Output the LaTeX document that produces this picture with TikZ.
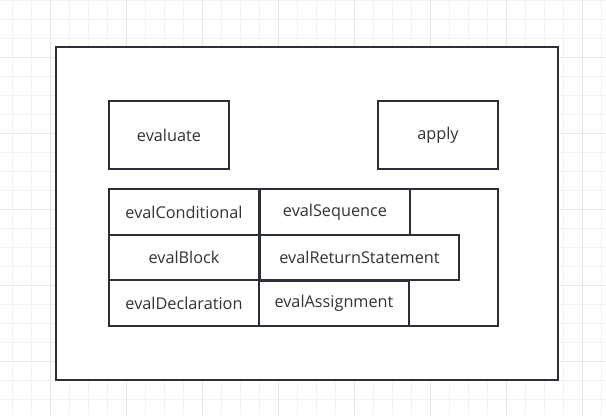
\documentclass[tikz,border=0pt]{standalone}
\usepackage{fontspec}
\setmainfont{Open Sans}
\definecolor{gridminor}{HTML}{F2F2F2}
\definecolor{gridmajor}{HTML}{E6E6E6}
\definecolor{edge}{HTML}{2B3036}
\definecolor{txt}{HTML}{333333}
\begin{document}
\begin{tikzpicture}[x=0.75pt,y=-0.75pt,
  box/.style={draw=edge,fill=white,line width=1.2pt,inner sep=0pt,
    text=txt,font=\fontsize{12.2}{14}\selectfont}]
\useasboundingbox (0,0) rectangle (606,415);
\fill[white] (0,0) rectangle (606,415);
% grid
\foreach \x in {12,31,...,606} \draw[gridminor,line width=0.75pt] (\x,0) -- (\x,415);
\foreach \y in {0,19,...,415} \draw[gridminor,line width=0.75pt] (0,\y) -- (606,\y);
\foreach \x in {50,126,...,606} \draw[gridmajor,line width=0.75pt] (\x,0) -- (\x,415);
\foreach \y in {57,133,...,415} \draw[gridmajor,line width=0.75pt] (0,\y) -- (606,\y);
% boxes
\node[box,minimum width=376.5pt,minimum height=249.75pt] (outer) at (307,213.5) {};
\node[box,minimum width=90pt,minimum height=51pt] (evaluate) at (169,135) {evaluate};
\node[box,minimum width=90pt,minimum height=51pt] (apply) at (438,135) {apply};
\node[box,minimum width=291.75pt,minimum height=102.75pt] (group) at (303.5,257.5) {};
\node[box,minimum width=112.5pt,minimum height=34.5pt] (cond) at (184,212) {evalConditional};
\node[box,minimum width=112.5pt,minimum height=33.75pt] (block) at (184,257.5) {evalBlock};
\node[box,minimum width=112.5pt,minimum height=34.5pt] (decl) at (184,303) {evalDeclaration};
\node[box,minimum width=112.5pt,minimum height=34.5pt] (seq) at (335,212) {evalSequence};
\node[box,minimum width=149.25pt,minimum height=33.75pt] (ret) at (359.5,257.5) {evalReturnStatement};
\node[box,minimum width=112.5pt,minimum height=33.75pt] (assign) at (334,303.5) {evalAssignment};
\end{tikzpicture}
\end{document}
